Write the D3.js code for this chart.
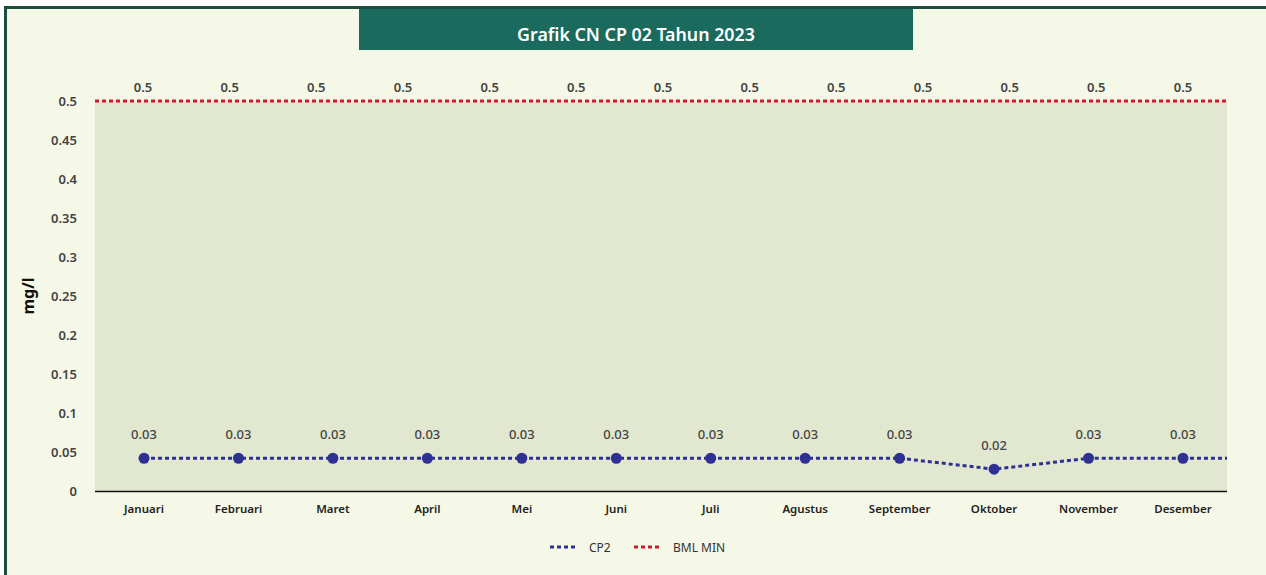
<!DOCTYPE html>
<html>
<head>
<meta charset="utf-8">
<script src="https://cdn.jsdelivr.net/npm/d3@7"></script>
<style>
  html, body { margin: 0; padding: 0; background: #ffffff; }
  svg { display: block; font-family: "Noto Sans", "Open Sans", sans-serif; }
</style>
</head>
<body>
<svg id="chart" width="1266" height="575"></svg>
<script>
// data
const months = ["Januari", "Februari", "Maret", "April", "Mei", "Juni", "Juli",
  "Agustus", "September", "Oktober", "November", "Desember"];
const cp2 = [0.042, 0.042, 0.042, 0.042, 0.042, 0.042, 0.042, 0.042, 0.042, 0.028, 0.042, 0.042];
const cp2Labels = ["0.03", "0.03", "0.03", "0.03", "0.03", "0.03", "0.03", "0.03", "0.03", "0.02", "0.03", "0.03"];
// BML MIN series has 13 points on its own category axis
const bmlMin = [0.5, 0.5, 0.5, 0.5, 0.5, 0.5, 0.5, 0.5, 0.5, 0.5, 0.5, 0.5, 0.5];
const yTicks = [0, 0.05, 0.1, 0.15, 0.2, 0.25, 0.3, 0.35, 0.4, 0.45, 0.5];

const W = 1266, H = 575;
const plot = { left: 95, right: 1227, top: 101, bottom: 491 };

const svg = d3.select("#chart");

// frame
svg.append("rect")
  .attr("x", 5.5).attr("y", 7.5)
  .attr("width", W + 10).attr("height", H + 10)
  .attr("fill", "#f5f8e7")
  .attr("stroke", "#1b4d43")
  .attr("stroke-width", 3);

// title box
svg.append("rect")
  .attr("x", 359).attr("y", 9)
  .attr("width", 554).attr("height", 41)
  .attr("fill", "#1a6b5d");
svg.append("text")
  .attr("x", 636).attr("y", 41)
  .attr("text-anchor", "middle")
  .attr("fill", "#ffffff")
  .attr("font-size", "17.8px")
  .attr("font-weight", 600)
  .text("Grafik CN CP 02 Tahun 2023");

const x = d3.scaleBand()
  .domain(months)
  .range([96.8, 1230.2]);
const cx = d => x(d) + x.bandwidth() / 2;

const x2 = d3.scalePoint()
  .domain(d3.range(bmlMin.length))
  .range([143, 1183]);

const y = d3.scaleLinear()
  .domain([0, 0.5])
  .range([plot.bottom, plot.top]);

// plot area
svg.append("rect")
  .attr("x", plot.left).attr("y", y(0.5))
  .attr("width", plot.right - plot.left)
  .attr("height", y(0) - y(0.5))
  .attr("fill", "#e2e7d0");

// y axis
const yAxis = d3.axisLeft(y)
  .tickValues(yTicks)
  .tickSize(0)
  .tickPadding(18)
  .tickFormat(d => d3.format("")(+d.toFixed(2)));
const gy = svg.append("g")
  .attr("transform", `translate(${plot.left},0)`)
  .call(yAxis);
gy.select(".domain").remove();
gy.selectAll("text")
  .attr("fill", "#444444")
  .attr("font-size", "13px")
  .attr("font-weight", 600)
  .attr("font-family", "'Noto Sans', sans-serif");

// x axis
const xAxis = d3.axisBottom(x).tickSize(0).tickPadding(14);
const gx = svg.append("g")
  .attr("transform", `translate(0,${plot.bottom})`)
  .call(xAxis);
gx.select(".domain").remove();
gx.selectAll("text")
  .attr("fill", "#222222")
  .attr("font-size", "11.5px")
  .attr("font-weight", 600)
  .attr("font-family", "'Noto Sans', sans-serif");

svg.append("line")
  .attr("x1", plot.left).attr("x2", plot.right)
  .attr("y1", y(0) + 0.5).attr("y2", y(0) + 0.5)
  .attr("stroke", "#111111")
  .attr("stroke-width", 1.5);

// axis title
svg.append("text")
  .attr("transform", `translate(34,${(plot.top + plot.bottom) / 2}) rotate(-90)`)
  .attr("text-anchor", "middle")
  .attr("fill", "#111111")
  .attr("font-size", "16px")
  .attr("font-weight", 700)
  .text("mg/l");

// BML MIN line, across the whole plot
svg.append("line")
  .attr("x1", plot.left).attr("x2", plot.right)
  .attr("y1", y(bmlMin[0])).attr("y2", y(bmlMin[0]))
  .attr("stroke", "#cc1b2f")
  .attr("stroke-width", 3)
  .attr("stroke-dasharray", "4,3");

svg.selectAll(".bmlLabel")
  .data(bmlMin)
  .enter()
  .append("text")
  .attr("class", "bmlLabel")
  .attr("x", (d, i) => x2(i))
  .attr("y", d => y(d) - 9)
  .attr("text-anchor", "middle")
  .attr("fill", "#444444")
  .attr("font-size", "13px")
  .attr("font-weight", 600)
  .text(d => d);

// CP2 line
const line = d3.line()
  .x((d, i) => cx(months[i]))
  .y(d => y(d));
svg.append("path")
  .datum(cp2)
  .attr("d", line)
  .attr("fill", "none")
  .attr("stroke", "#2e3192")
  .attr("stroke-width", 3)
  .attr("stroke-dasharray", "4,3");
// runs on to the edge of the plot
svg.append("line")
  .attr("x1", cx(months[months.length - 1])).attr("x2", plot.right)
  .attr("y1", y(cp2[cp2.length - 1])).attr("y2", y(cp2[cp2.length - 1]))
  .attr("stroke", "#2e3192")
  .attr("stroke-width", 3)
  .attr("stroke-dasharray", "4,3");

svg.selectAll(".dot")
  .data(cp2)
  .enter()
  .append("circle")
  .attr("class", "dot")
  .attr("cx", (d, i) => cx(months[i]))
  .attr("cy", d => y(d))
  .attr("r", 5.5)
  .attr("fill", "#2e3192");

svg.selectAll(".cpLabel")
  .data(cp2)
  .enter()
  .append("text")
  .attr("class", "cpLabel")
  .attr("x", (d, i) => cx(months[i]))
  .attr("y", d => y(d) - 19)
  .attr("text-anchor", "middle")
  .attr("fill", "#444444")
  .attr("font-size", "13px")
  .attr("font-weight", 500)
  .text((d, i) => cp2Labels[i]);

// legend
const legend = [
  { name: "CP2", color: "#2e3192", x: 550 },
  { name: "BML MIN", color: "#cc1b2f", x: 634 }
];
const lg = svg.selectAll(".legend")
  .data(legend)
  .enter()
  .append("g")
  .attr("class", "legend")
  .attr("transform", d => `translate(${d.x},547)`);
lg.append("line")
  .attr("x1", 0).attr("x2", 28)
  .attr("stroke", d => d.color)
  .attr("stroke-width", 3)
  .attr("stroke-dasharray", "4,3");
lg.append("text")
  .attr("x", 39).attr("y", 4.5)
  .attr("fill", "#333333")
  .attr("font-size", "12px")
  .text(d => d.name);
</script>
</body>
</html>
